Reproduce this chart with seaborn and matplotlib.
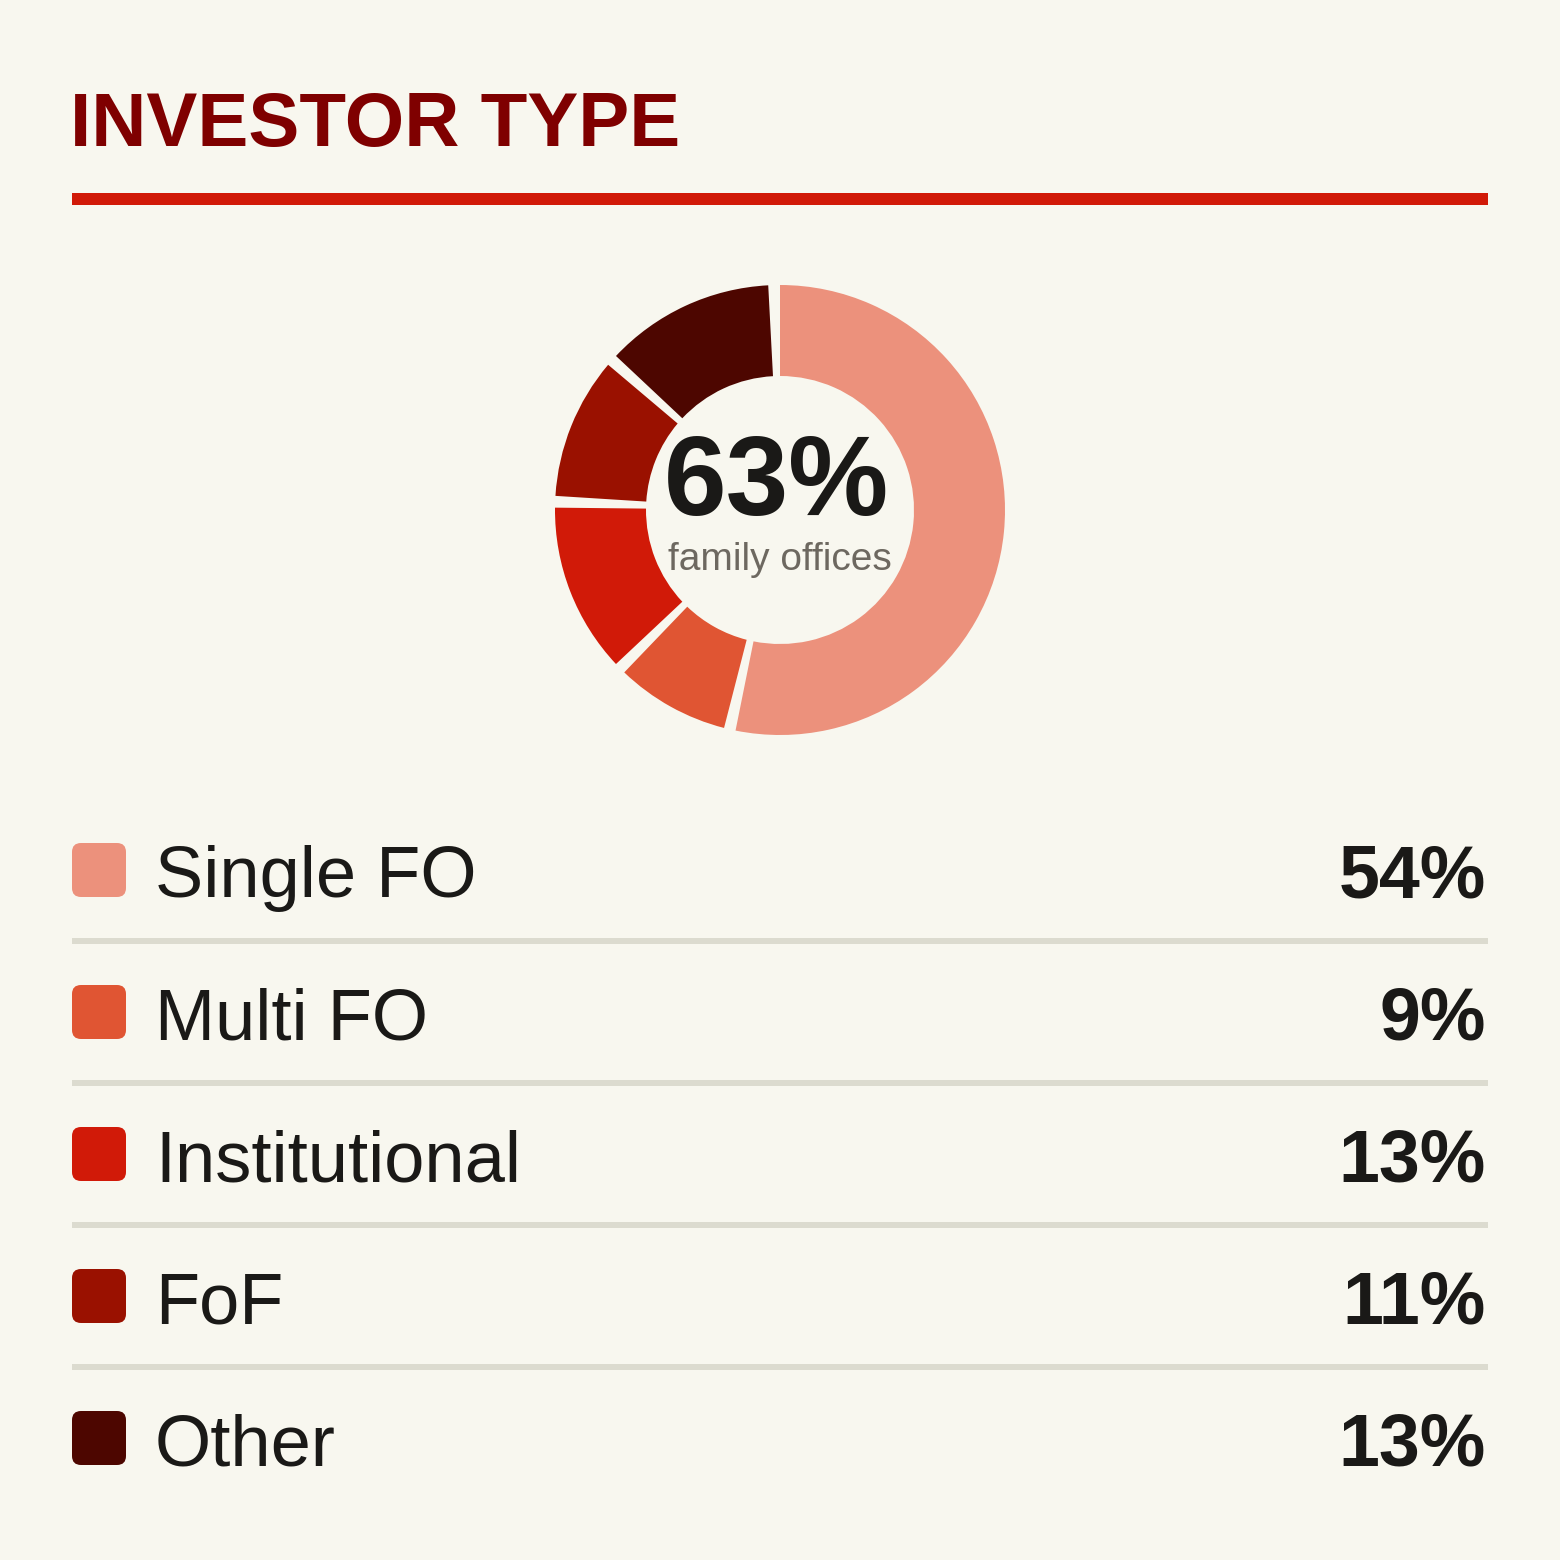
import matplotlib
matplotlib.use("Agg")
import matplotlib.pyplot as plt
from matplotlib.patches import FancyBboxPatch, Rectangle
import seaborn as sns

# data
categories = ["Single FO", "Multi FO", "Institutional", "FoF", "Other"]
shares = [54, 9, 13, 11, 13]
value_labels = ["54%", "9%", "13%", "11%", "13%"]
colors = ["#EC917C", "#E05533", "#D11A08", "#9A1100", "#4D0600"]
title = "INVESTOR TYPE"
center_value = "63%"
center_caption = "family offices"

BG = "#F8F7EF"
INK = "#1A1917"
PAD_DEG = 3.0  # angular gap at the end of each slice

sns.set_theme(style="white")
plt.rcParams["font.family"] = ["Liberation Sans", "DejaVu Sans"]
palette = sns.color_palette(colors)

fig = plt.figure(figsize=(15.6, 15.6), dpi=100, facecolor=BG)
ax = fig.add_axes([0, 0, 1, 1])
ax.set_facecolor(BG)

# slices with a small invisible gap slice after each one
pad = PAD_DEG / 360 * sum(shares)
vals, cols = [], []
for s, c in zip(shares, palette):
    vals += [s - pad, pad]
    cols += [c, (0, 0, 0, 0)]

# pixel coords with y pointing down -> counterclock in data = clockwise on screen
ax.pie(vals, colors=cols, center=(780, 510), radius=225,
       startangle=-90, counterclock=True, frame=True,
       wedgeprops=dict(width=91, edgecolor="none", linewidth=0))

ax.set_xlim(0, 1560)
ax.set_ylim(1560, 0)
ax.set_aspect("equal")
ax.axis("off")

# header
ax.text(70, 146, title, fontsize=55, fontweight="bold", color="#7F0000",
        ha="left", va="baseline")
ax.add_patch(Rectangle((72, 193), 1416, 12, color="#D11A08", lw=0))

# center text
ax.text(777, 515, center_value, fontsize=81, fontweight="bold", color=INK,
        ha="center", va="baseline")
ax.text(780, 570, center_caption, fontsize=28, color="#6D6860",
        ha="center", va="baseline")

# legend rows
row0, step = 870, 142
for i, (cat, val) in enumerate(zip(categories, value_labels)):
    yc = row0 + i * step
    ax.add_patch(FancyBboxPatch((72, yc - 27), 54, 54,
                                boxstyle="round,pad=0,rounding_size=9",
                                fc=palette[i], ec="none"))
    ax.text(155, yc + 27, cat, fontsize=52, color=INK, ha="left", va="baseline")
    ax.text(1486, yc + 27, val, fontsize=53, fontweight="bold", color=INK,
            ha="right", va="baseline")
    if i < len(categories) - 1:
        ax.plot([72, 1488], [yc + 71, yc + 71], color="#DCDBCF",
                lw=4.3, solid_capstyle="butt")

fig.savefig("out.png", dpi=100, facecolor=BG)
